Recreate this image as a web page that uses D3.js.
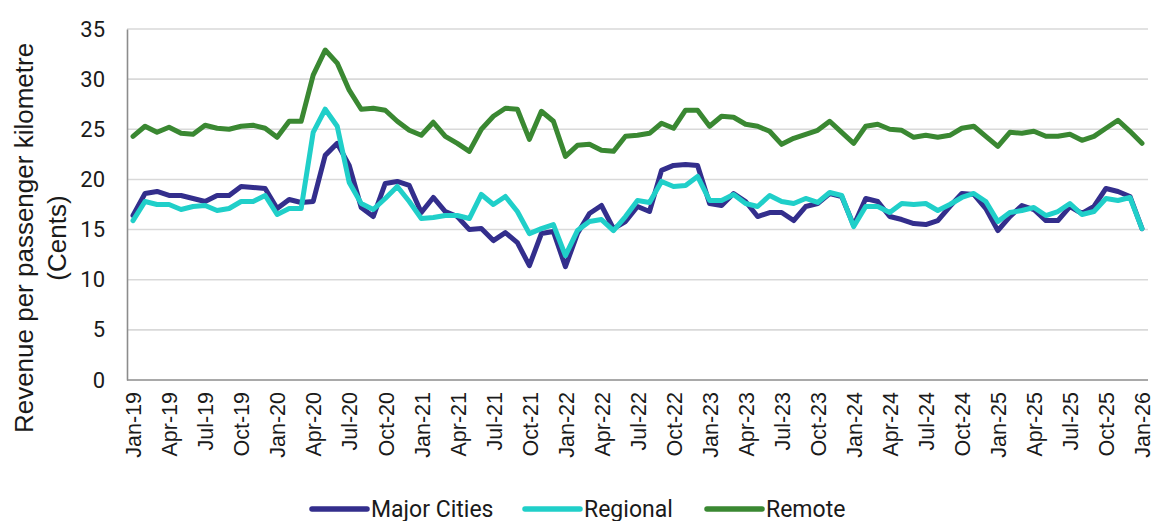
<!DOCTYPE html>
<html>
<head>
<meta charset="utf-8">
<script src="https://cdn.jsdelivr.net/npm/d3@7"></script>
<style>
  body { margin: 0; background: #fff; }
  #chart { width: 1153px; height: 521px; }
</style>
</head>
<body>
<div id="chart"></div>
<script>
// monthly, Jan-19 .. Jan-26 (85 months)
var months = d3.timeMonth.range(new Date(2019, 0, 1), new Date(2026, 1, 1))
var fmt = d3.timeFormat("%b-%y")

var majorCities = [16.4, 18.6, 18.8, 18.4, 18.4, 18.1, 17.8, 18.4, 18.4, 19.3, 19.2, 19.1,
  17.1, 18.0, 17.7, 17.8, 22.4, 23.6, 21.4, 17.2, 16.3, 19.6, 19.8, 19.4,
  16.7, 18.2, 16.8, 16.3, 15.0, 15.1, 13.9, 14.7, 13.7, 11.4, 14.6, 14.8,
  11.3, 14.6, 16.6, 17.4, 15.1, 15.8, 17.3, 16.8, 20.9, 21.4, 21.5, 21.4,
  17.6, 17.4, 18.6, 17.8, 16.3, 16.7, 16.7, 15.9, 17.3, 17.6, 18.6, 18.3,
  15.4, 18.1, 17.8, 16.3, 16.0, 15.6, 15.5, 15.9, 17.3, 18.6, 18.5, 17.1,
  14.9, 16.3, 17.4, 17.0, 15.9, 15.9, 17.3, 16.6, 17.3, 19.1, 18.8, 18.3,
  15.1]

var regional = [15.9, 17.8, 17.5, 17.5, 17.0, 17.3, 17.4, 16.9, 17.1, 17.8, 17.8, 18.4,
  16.5, 17.1, 17.1, 24.7, 27.0, 25.3, 19.7, 17.6, 17.0, 18.1, 19.3, 17.8,
  16.1, 16.2, 16.4, 16.4, 16.1, 18.5, 17.5, 18.3, 16.8, 14.6, 15.1, 15.5,
  12.4, 14.9, 15.8, 16.0, 14.9, 16.3, 17.9, 17.7, 19.8, 19.3, 19.4, 20.3,
  17.9, 17.9, 18.5, 17.6, 17.3, 18.4, 17.8, 17.6, 18.1, 17.7, 18.7, 18.4,
  15.3, 17.3, 17.3, 16.7, 17.6, 17.5, 17.6, 16.9, 17.5, 18.2, 18.6, 17.8,
  15.8, 16.7, 16.9, 17.2, 16.4, 16.8, 17.6, 16.5, 16.8, 18.1, 17.9, 18.2,
  15.1]

var remote = [24.3, 25.3, 24.7, 25.2, 24.6, 24.5, 25.4, 25.1, 25.0, 25.3, 25.4, 25.1,
  24.2, 25.8, 25.8, 30.4, 32.9, 31.6, 28.9, 27.0, 27.1, 26.9, 25.8, 24.9,
  24.4, 25.7, 24.3, 23.6, 22.8, 25.0, 26.3, 27.1, 27.0, 24.0, 26.8, 25.8,
  22.3, 23.4, 23.5, 22.9, 22.8, 24.3, 24.4, 24.6, 25.6, 25.1, 26.9, 26.9,
  25.3, 26.3, 26.2, 25.5, 25.3, 24.8, 23.5, 24.1, 24.5, 24.9, 25.8, 24.7,
  23.6, 25.3, 25.5, 25.0, 24.9, 24.2, 24.4, 24.2, 24.4, 25.1, 25.3, 24.3,
  23.3, 24.7, 24.6, 24.8, 24.3, 24.3, 24.5, 23.9, 24.3, 25.1, 25.9, 24.8,
  23.6]

var series = [
  {name: "Major Cities", values: majorCities, color: "#332e8c"},
  {name: "Regional", values: regional, color: "#20cfc9"},
  {name: "Remote", values: remote, color: "#3a8832"}
]
var yTicks = [0, 5, 10, 15, 20, 25, 30, 35]

var width = 1153, height = 521
var margin = {top: 29, right: 5, bottom: 141, left: 127}

var svg = d3.select("#chart").append("svg")
  .attr("width", width)
  .attr("height", height)

var x = d3.scalePoint()
  .domain(months.map(fmt))
  .range([margin.left, width - margin.right])
  .padding(0.5)

var y = d3.scaleLinear()
  .domain([0, 35])
  .range([height - margin.bottom, margin.top])

// gridlines
svg.append("g")
  .selectAll("line")
  .data(yTicks.filter(d => d > 0))
  .join("line")
  .attr("x1", margin.left)
  .attr("x2", width - margin.right)
  .attr("y1", d => y(d))
  .attr("y2", d => y(d))
  .attr("stroke", "#d9d9d9")
  .attr("stroke-width", 1.6)

// y axis
var yAxis = svg.append("g")
  .attr("transform", "translate(" + margin.left + ",0)")
  .call(d3.axisLeft(y).tickValues(yTicks).tickSize(0).tickPadding(22))
yAxis.select(".domain").attr("stroke", "#8c8c8c").attr("stroke-width", 1.6)
yAxis.selectAll("text")
  .style("font-family", "Roboto, Arial, sans-serif")
  .style("font-size", "22px")
  .attr("fill", "#1a1a1a")

// x axis
var xLabels = months.map(fmt).filter((d, i) => i % 3 == 0)
var xAxis = svg.append("g")
  .attr("transform", "translate(0," + y(0) + ")")
  .call(d3.axisBottom(x).tickValues(xLabels).tickSize(0).tickSizeOuter(0))
xAxis.select(".domain")
  .attr("d", "M" + margin.left + ",0H" + (width - margin.right))
  .attr("stroke", "#8c8c8c").attr("stroke-width", 1.6)
xAxis.selectAll("text")
  .attr("transform", "rotate(-90)")
  .attr("text-anchor", "end")
  .attr("x", -12)
  .attr("y", 0)
  .attr("dy", "0.36em")
  .style("font-family", "'Liberation Sans', Arial, sans-serif")
  .style("font-size", "21.5px")
  .attr("fill", "#1a1a1a")

// lines
var line = d3.line()
  .x((d, i) => x(fmt(months[i])))
  .y(d => y(d))

svg.append("g")
  .selectAll("path")
  .data(series)
  .join("path")
  .attr("fill", "none")
  .attr("stroke", d => d.color)
  .attr("stroke-width", 5)
  .attr("stroke-linejoin", "round")
  .attr("stroke-linecap", "round")
  .attr("d", d => line(d.values))

// y title
var title = svg.append("text")
  .attr("transform", "translate(33,238) rotate(-90)")
  .attr("text-anchor", "middle")
  .style("font-family", "'Liberation Sans', Arial, sans-serif")
  .style("font-size", "26px")
  .attr("fill", "#1a1a1a")
title.append("tspan").attr("x", 0).attr("dy", 0).text("Revenue per passenger kilometre")
title.append("tspan").attr("x", 0).attr("dy", "1.25em").text("(Cents)")

// legend
var legendX = [312, 525, 707]
var legend = svg.append("g")
  .selectAll("g")
  .data(series)
  .join("g")
  .attr("transform", (d, i) => "translate(" + legendX[i] + ",509)")
legend.append("line")
  .attr("x1", 0).attr("x2", 55)
  .attr("stroke", d => d.color)
  .attr("stroke-width", 5.5)
  .attr("stroke-linecap", "round")
legend.append("text")
  .attr("x", 59)
  .attr("dy", "0.35em")
  .style("font-family", "Roboto, Arial, sans-serif")
  .style("font-size", "23px")
  .attr("fill", "#1a1a1a")
  .text(d => d.name)
</script>
</body>
</html>
